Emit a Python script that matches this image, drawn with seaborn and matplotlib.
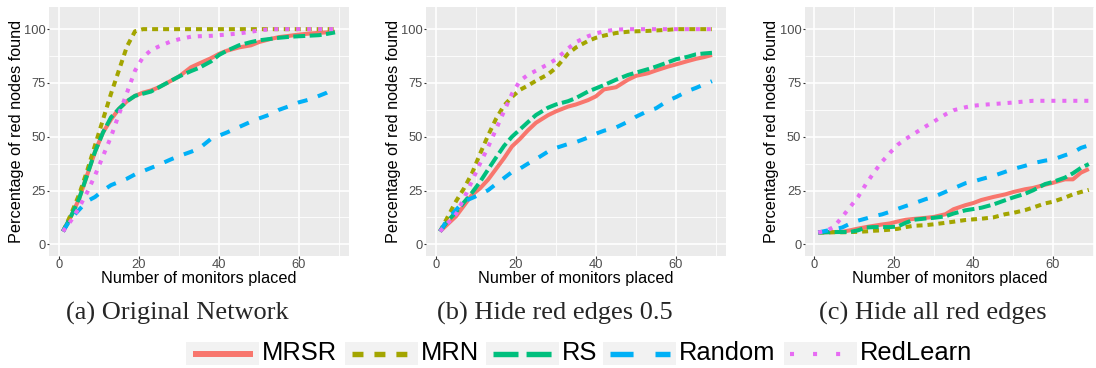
import numpy as np
import pandas as pd
import matplotlib
matplotlib.use("Agg")
import matplotlib.pyplot as plt
from matplotlib.patches import Rectangle
from matplotlib.lines import Line2D
import seaborn as sns

# ---------------- data ----------------
monitors = [1, 3, 5, 7, 9, 11, 13, 15, 17, 19, 21, 23, 25, 28, 30, 33, 35, 38, 40, 42,
            45, 48, 50, 53, 55, 58, 60, 63, 65, 67, 69]

methods = ["MRSR", "MRN", "RS", "Random", "RedLearn"]
colors = ["#F8766D", "#A3A500", "#00BF7D", "#00B0F6", "#E76BF3"]

# (a) Original Network
mrsr_a = [6, 13, 21, 32, 43, 52, 58, 63, 66.5, 69, 70.5, 71.5, 73, 76, 78, 82.3, 84, 86.5, 88.5, 90,
          91.5, 92.5, 94, 95.5, 96.3, 97, 97.5, 98, 98.3, 98.5, 98.8]
mrn_a = [6, 14, 23, 34, 46, 58, 70, 81, 92, 99, 100, 100, 100, 100, 100, 100, 100, 100, 100, 100,
         100, 100, 100, 100, 100, 100, 100, 100, 100, 100, 100]
rs_a = [6, 13, 21, 32, 43, 52, 59, 63, 66.5, 69, 70, 71, 73, 76, 78, 80.5, 82, 85, 88, 90,
        92.5, 94, 94.8, 95.5, 96, 96.5, 96.7, 97, 97.2, 97.8, 98.5]
random_a = [6, 12, 16, 20, 22, 25, 27.5, 29, 30.5, 32.5, 34, 35.5, 37, 39.5, 41, 43, 44.5, 49, 50.5, 52,
            54.5, 57, 58.5, 60.5, 62.5, 64.5, 66, 67.5, 69, 70.5, 72.5]
redlearn_a = [6, 11, 17, 24, 32, 41, 50, 60.5, 70.5, 80.7, 87, 90.2, 92, 94.3, 95.3, 96.5, 96.7, 96.9, 97.2, 97.5,
              98, 98.8, 99.4, 100, 100, 100, 100, 100, 100, 100, 100]

# (b) Hide red edges 0.5
mrsr_b = [6, 9.5, 13, 18, 23, 26, 30, 35, 40, 45.5, 49, 53, 56.5, 60, 61.8, 64, 65, 67, 68.8, 72,
          73, 76.5, 78.3, 79.5, 80.8, 82.6, 83.6, 85.2, 86.2, 87, 88]
mrn_b = [6, 13, 20, 26, 33, 42, 50.5, 58.3, 64.5, 68.5, 71.8, 73.8, 76, 79, 82, 88.6, 91.5, 94.5, 96, 97,
         98.2, 98.8, 99, 99.2, 99.4, 99.7, 100, 100, 100, 100, 100]
rs_b = [6, 11, 15, 19.5, 24, 29, 34.7, 40.3, 45.7, 50, 53.4, 56.8, 60.1, 63.5, 65, 66.5, 68, 71, 72.5, 74,
        76.5, 78.7, 79.8, 81.4, 82.6, 84.6, 86, 87.2, 88.3, 88.7, 89]
random_b = [6, 12, 16, 20, 21.5, 23.2, 25.1, 28, 30.8, 33.6, 35.2, 37.5, 39.6, 43.1, 44.8, 46.6, 47.5, 49.6, 51.4, 52.8,
            54.3, 57, 59.3, 62, 63.2, 66.8, 68.4, 71.3, 72.7, 74.3, 75.8]
redlearn_b = [6, 10, 14, 21.4, 29.4, 37.5, 45.1, 53.4, 61.8, 70, 76, 78.8, 80.7, 83.7, 86, 91, 94, 96.7, 98, 99,
              99.8, 100, 100, 100, 100, 100, 100, 100, 100, 100, 100]

# (c) Hide all red edges
mrsr_c = [5.5, 5.6, 5.7, 5.8, 6.5, 7.3, 8, 8.6, 9.2, 9.7, 10.6, 11.4, 11.8, 12.3, 12.7, 14, 16.3, 18.2, 19.2, 20.6,
          22, 23.2, 24.3, 25.6, 26.2, 27.7, 28.6, 30.2, 30.2, 33.3, 35]
mrn_c = [5.5, 5.5, 5.6, 5.6, 5.7, 5.8, 6, 6.3, 6.5, 6.8, 7.2, 8, 8.6, 8.9, 9.3, 10, 10.5, 11.3, 11.6, 11.9,
         12.5, 14, 14.6, 15.9, 17.1, 19, 19.8, 21.7, 23.2, 24.3, 25.3]
rs_c = [5.5, 5.6, 5.7, 5.7, 5.7, 6.5, 7.8, 8, 8, 8, 8.3, 10, 11.4, 12, 12.3, 13, 14.3, 15.8, 16.4, 17,
        18.5, 20.5, 21.8, 23.5, 25.1, 28, 29, 31, 33, 35.5, 37.3]
random_c = [5.5, 6.3, 7, 7.8, 9.6, 11, 12, 13.1, 13.9, 15.1, 16.5, 17.8, 19, 21, 22, 24.4, 26, 28.4, 29.2, 30.3,
            31.8, 33.7, 35, 36.5, 37.7, 38.9, 39.4, 41.4, 42.6, 44.8, 46]
redlearn_c = [5.5, 6.2, 8.2, 12.7, 17.3, 22, 28, 33.4, 38.3, 42.5, 46.3, 49, 51.3, 54.8, 57, 60.4, 62.3, 63.7, 64.4, 64.8,
              65.2, 65.6, 65.9, 66.4, 66.7, 66.7, 66.7, 66.7, 66.7, 66.7, 66.7]

panels = [
    ("(a) Original Network", [mrsr_a, mrn_a, rs_a, random_a, redlearn_a]),
    ("(b) Hide red edges 0.5", [mrsr_b, mrn_b, rs_b, random_b, redlearn_b]),
    ("(c) Hide all red edges", [mrsr_c, mrn_c, rs_c, random_c, redlearn_c]),
]

x_ticks = [0, 20, 40, 60]
y_ticks = [0, 25, 50, 75, 100]

# ---------------- style ----------------
sns.set_theme(style="darkgrid")
plt.rcParams["font.family"] = ["Liberation Sans", "DejaVu Sans"]
plt.rcParams["lines.scale_dashes"] = False
plt.rcParams["lines.solid_capstyle"] = "butt"
plt.rcParams["lines.dash_capstyle"] = "butt"

W, H = 1096, 368
fig = plt.figure(figsize=(W / 100, H / 100), dpi=100)
fig.patch.set_facecolor("white")

palette = dict(zip(methods, colors))
plot_dashes = {"MRSR": "", "MRN": (4.3, 3.6), "RS": (8.6, 3.2),
               "Random": (7.2, 7.9), "RedLearn": (2.9, 5.0)}

top_px, bot_px = 7.1, 255.6
ax_bounds = [(49.4, 348.6, (-2.4, 72.4)),
             (426.4, 725.6, (-2.4, 72.4)),
             (804.7, 1094.0, (-2.4, 70.3))]
caption_x = [177, 554.5, 932.5]

for (title, series), (lpx, rpx, xlim), cx in zip(panels, ax_bounds, caption_x):
    ax = fig.add_axes([lpx / W, (H - bot_px) / H, (rpx - lpx) / W, (bot_px - top_px) / H])
    rows = []
    for m, vals in zip(methods, series):
        for xv, yv in zip(monitors, vals):
            rows.append((m, xv, yv))
    df = pd.DataFrame(rows, columns=["method", "monitors", "pct"])
    sns.lineplot(data=df, x="monitors", y="pct", hue="method", style="method",
                 hue_order=methods, style_order=methods, palette=palette,
                 dashes=plot_dashes, linewidth=2.9, errorbar=None, legend=False,
                 ax=ax)
    ax.set_facecolor("#EBEBEB")
    for s in ax.spines.values():
        s.set_visible(False)
    ax.set_xlim(*xlim)
    ax.set_ylim(-5.25, 110.25)
    ax.set_xticks(x_ticks)
    ax.set_yticks(y_ticks)
    ax.set_xticks([10, 30, 50, 70], minor=True)
    ax.set_yticks([12.5, 37.5, 62.5, 87.5], minor=True)
    ax.grid(which="major", color="white", linewidth=1.2)
    ax.grid(which="minor", color="white", linewidth=0.6)
    ax.set_axisbelow(True)
    ax.tick_params(which="major", bottom=True, left=True, length=1.8, width=0.8,
                   color="#333333", pad=0.6, labelsize=9.3, labelcolor="#4D4D4D")
    ax.tick_params(which="minor", length=0)
    wpx = rpx - lpx
    hpx = bot_px - top_px
    ax.set_xlabel("Number of monitors placed", fontsize=11.7, color="black", va="center")
    ax.set_ylabel("Percentage of red nodes found", fontsize=11.7, color="black", va="center")
    ax.xaxis.set_label_coords(0.5, -(279 - bot_px) / hpx)
    ax.yaxis.set_label_coords(-33.0 / wpx, 0.5)
    fig.text(cx / W, 1 - 313 / H, title, fontsize=19, family=["Liberation Serif", "DejaVu Serif"],
             ha="center", va="center")

# ---------------- legend ----------------
legend_dashes = {"MRSR": None, "MRN": (7.9, 7.9), "RS": (18, 5.8),
                 "Random": (16.6, 15.8), "RedLearn": (2.9, 13.7)}
legend_lw = {"MRSR": 4.3, "MRN": 3.9, "RS": 3.9, "Random": 3.9, "RedLearn": 3.0}
key_x = [186, 345, 486, 603, 784]
ky0, ky1 = 342, 365
kyc = 353.5
for m, c, bx in zip(methods, colors, key_x):
    fig.add_artist(Rectangle((bx / W, 1 - ky1 / H), 73 / W, (ky1 - ky0) / H,
                             transform=fig.transFigure, facecolor="#F2F2F2", edgecolor="none"))
    ln = Line2D([(bx + 6.5) / W, (bx + 66.5) / W], [1 - kyc / H, 1 - kyc / H],
                transform=fig.transFigure, color=c, linewidth=legend_lw[m])
    if legend_dashes[m] is not None:
        ln.set_dashes(legend_dashes[m])
    fig.add_artist(ln)
    fig.text((bx + 76) / W, 1 - 353 / H, m, fontsize=18.4, ha="left", va="center", color="black")

fig.savefig("out.png", dpi=100)
